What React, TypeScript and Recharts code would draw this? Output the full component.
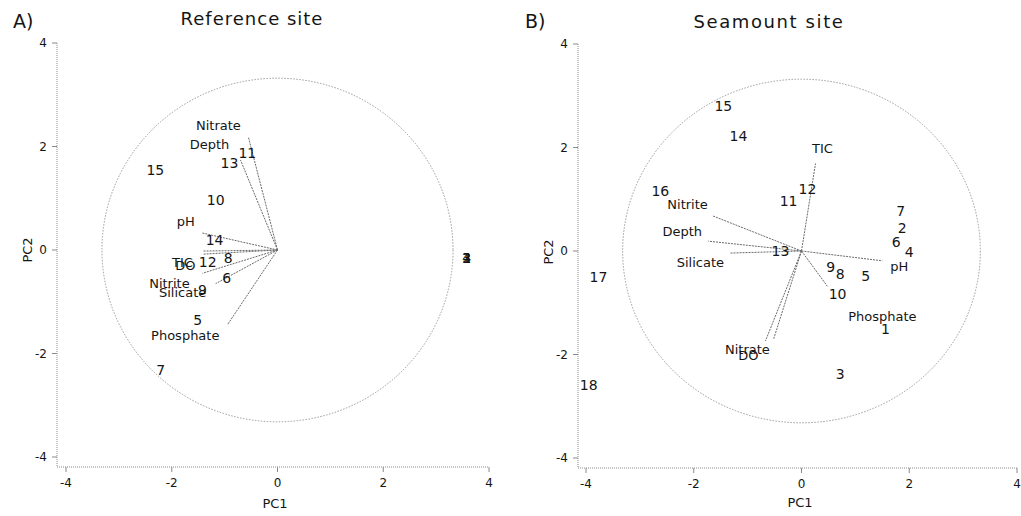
import React from "react";
import {
  ScatterChart,
  Scatter,
  XAxis,
  YAxis,
  ReferenceLine,
  ReferenceDot,
} from "recharts";

const AXIS_TICKS = [-4, -2, 0, 2, 4];
const CIRCLE_R = 3.32;
const FONT = "'DejaVu Sans', Arial, sans-serif";
const INK = "#151515";
const AXIS_GREY = "#8a8a8a";

// Reference site - sample scores (1-4 sit on top of each other)
const refSamples = ["1", "2", "3", "4", "5", "6", "7", "8", "9", "10", "11", "12", "13", "14", "15"];
const refPC1 = [3.58, 3.58, 3.58, 3.58, -1.51, -0.96, -2.21, -0.93, -1.42, -1.17, -0.57, -1.32, -0.91, -1.19, -2.31];
const refPC2 = [-0.15, -0.15, -0.15, -0.15, -1.35, -0.54, -2.32, -0.15, -0.77, 0.97, 1.87, -0.23, 1.68, 0.19, 1.55];

// Reference site - variable loadings
const refVars = ["Nitrate", "Depth", "pH", "TIC", "DO", "Nitrite", "Silicate", "Phosphate"];
const refVarPC1 = [-0.55, -0.7, -1.43, -1.4, -1.4, -1.42, -1.17, -0.95];
const refVarPC2 = [2.18, 1.74, 0.33, -0.02, -0.08, -0.45, -0.65, -1.45];

// Seamount site - sample scores
const seaSamples = ["1", "2", "3", "4", "5", "6", "7", "8", "9", "10", "11", "12", "13", "14", "15", "16", "17", "18"];
const seaPC1 = [1.56, 1.87, 0.72, 2.0, 1.19, 1.76, 1.84, 0.72, 0.54, 0.67, -0.24, 0.11, -0.39, -1.17, -1.45, -2.62, -3.77, -3.95];
const seaPC2 = [-1.51, 0.45, -2.38, -0.02, -0.48, 0.17, 0.78, -0.45, -0.31, -0.83, 0.97, 1.2, 0.0, 2.23, 2.81, 1.16, -0.5, -2.58];

// Seamount site - variable loadings
const seaVars = ["TIC", "Nitrite", "Depth", "Silicate", "pH", "Phosphate", "Nitrate", "DO"];
const seaVarPC1 = [0.26, -1.65, -1.73, -1.32, 1.5, 0.48, -0.67, -0.52];
const seaVarPC2 = [1.69, 0.68, 0.19, -0.04, -0.19, -0.68, -1.74, -1.71];

// pixel nudges for the variable names, relative to the arrow tip
const refNudge: Record<string, [number, number]> = {
  Nitrate: [-30, -12],
  Depth: [-31, -15],
  pH: [-16, -11],
  TIC: [-21, 11],
  DO: [-18, 11],
  Nitrite: [-33, 10],
  Silicate: [-33, 9],
  Phosphate: [-42, 10],
};
const seaNudge: Record<string, [number, number]> = {
  TIC: [7, -15],
  Nitrite: [-25, -11],
  Depth: [-26, -10],
  Silicate: [-30, 9],
  pH: [17, 6],
  Phosphate: [55, 30],
  Nitrate: [-18, 8],
  DO: [-25, 16],
};

type Frame = {
  width: number;
  height: number;
  margin: { top: number; right: number; bottom: number; left: number };
  yAxisWidth: number;
  xAxisHeight: number;
  padLeft: number;
  padBottom: number;
};

type PanelProps = {
  frame: Frame;
  samples: string[];
  pc1: number[];
  pc2: number[];
  vars: string[];
  varPC1: number[];
  varPC2: number[];
  nudge: Record<string, [number, number]>;
};

function BiplotPanel(p: PanelProps) {
  const { frame } = p;
  const points = p.samples.map((id, i) => ({ id, x: p.pc1[i], y: p.pc2[i] }));
  const loadings = p.vars.map((name, i) => ({ name, x: p.varPC1[i], y: p.varPC2[i] }));

  // px per unit, needed to size the correlation circle
  const plotW = frame.width - frame.margin.left - frame.margin.right - frame.yAxisWidth - frame.padLeft;
  const plotH = frame.height - frame.margin.top - frame.margin.bottom - frame.xAxisHeight - frame.padBottom;
  const kx = plotW / 8;
  const ky = plotH / 8;

  const tickStyle = { fontSize: 12, fill: INK, fontFamily: FONT };

  return (
    <ScatterChart width={frame.width} height={frame.height} margin={frame.margin}>
      <XAxis
        type="number"
        dataKey="x"
        domain={[-4, 4]}
        ticks={AXIS_TICKS}
        padding={{ left: frame.padLeft, right: 0 }}
        height={frame.xAxisHeight}
        tick={tickStyle}
        tickSize={5}
        tickMargin={6}
        stroke={AXIS_GREY}
        axisLine={{ stroke: AXIS_GREY, strokeDasharray: "1 1" }}
      />
      <YAxis
        type="number"
        dataKey="y"
        domain={[-4, 4]}
        ticks={AXIS_TICKS}
        padding={{ top: 0, bottom: frame.padBottom }}
        width={frame.yAxisWidth}
        tick={tickStyle}
        tickSize={5}
        tickMargin={5}
        stroke={AXIS_GREY}
        axisLine={{ stroke: AXIS_GREY, strokeDasharray: "1 1" }}
      />
      <ReferenceDot
        x={0}
        y={0}
        r={0}
        shape={(s: any) => (
          <ellipse
            cx={s.cx}
            cy={s.cy}
            rx={CIRCLE_R * kx}
            ry={CIRCLE_R * ky}
            fill="none"
            stroke="#9a9a9a"
            strokeWidth={1}
            strokeDasharray="1.5 1.5"
          />
        )}
      />
      {loadings.map((v) => (
        <ReferenceLine
          key={`arrow-${v.name}`}
          segment={[
            { x: 0, y: 0 },
            { x: v.x, y: v.y },
          ]}
          stroke="#6a6a6a"
          strokeWidth={1}
          strokeDasharray="2 1"
        />
      ))}
      {loadings.map((v) => (
        <ReferenceDot
          key={`name-${v.name}`}
          x={v.x}
          y={v.y}
          r={0}
          shape={(s: any) => (
            <text
              x={s.cx + p.nudge[v.name][0]}
              y={s.cy + p.nudge[v.name][1]}
              textAnchor="middle"
              dominantBaseline="central"
              fontSize={13}
              fontFamily={FONT}
              fill={INK}
            >
              {v.name}
            </text>
          )}
        />
      ))}
      <Scatter
        data={points}
        isAnimationActive={false}
        shape={(s: any) => (
          <text
            x={s.cx}
            y={s.cy}
            textAnchor="middle"
            dominantBaseline="central"
            fontSize={14}
            fontFamily={FONT}
            fill={INK}
          >
            {s.payload.id}
          </text>
        )}
      />
    </ScatterChart>
  );
}

const frameA: Frame = {
  width: 510,
  height: 516,
  margin: { top: 43, right: 21, bottom: 9, left: 17 },
  yAxisWidth: 40,
  xAxisHeight: 40,
  padLeft: 9,
  padBottom: 10,
};

const frameB: Frame = {
  width: 511,
  height: 516,
  margin: { top: 44, right: 4, bottom: 8, left: 28 },
  yAxisWidth: 40,
  xAxisHeight: 40,
  padLeft: 8,
  padBottom: 10,
};

export default function App() {
  const txt = { fontFamily: FONT, fill: INK };
  return (
    <div style={{ position: "relative", width: 1021, height: 516, background: "#fff" }}>
      <style>{`body{margin:0;background:#fff}`}</style>
      <div style={{ position: "absolute", left: 0, top: 0 }}>
        <BiplotPanel
          frame={frameA}
          samples={refSamples}
          pc1={refPC1}
          pc2={refPC2}
          vars={refVars}
          varPC1={refVarPC1}
          varPC2={refVarPC2}
          nudge={refNudge}
        />
      </div>
      <div style={{ position: "absolute", left: 510, top: 0 }}>
        <BiplotPanel
          frame={frameB}
          samples={seaSamples}
          pc1={seaPC1}
          pc2={seaPC2}
          vars={seaVars}
          varPC1={seaVarPC1}
          varPC2={seaVarPC2}
          nudge={seaNudge}
        />
      </div>
      {/* panel tags, titles and axis names */}
      <svg
        width={1021}
        height={516}
        style={{ position: "absolute", left: 0, top: 0, pointerEvents: "none" }}
      >
        <text x={13} y={28} fontSize={19} {...txt}>A)</text>
        <text x={525} y={28} fontSize={19} {...txt}>B)</text>
        <text x={252} y={25} fontSize={18} letterSpacing={1} textAnchor="middle" {...txt}>
          Reference site
        </text>
        <text x={769} y={28} fontSize={18} letterSpacing={1.6} textAnchor="middle" {...txt}>
          Seamount site
        </text>
        <text x={275} y={508} fontSize={13} textAnchor="middle" {...txt}>PC1</text>
        <text x={800} y={507} fontSize={13} textAnchor="middle" {...txt}>PC1</text>
        <text
          x={27}
          y={250}
          fontSize={13}
          textAnchor="middle"
          dominantBaseline="central"
          transform="rotate(-90 27 250)"
          {...txt}
        >
          PC2
        </text>
        <text
          x={548}
          y={252}
          fontSize={13}
          textAnchor="middle"
          dominantBaseline="central"
          transform="rotate(-90 548 252)"
          {...txt}
        >
          PC2
        </text>
      </svg>
    </div>
  );
}
